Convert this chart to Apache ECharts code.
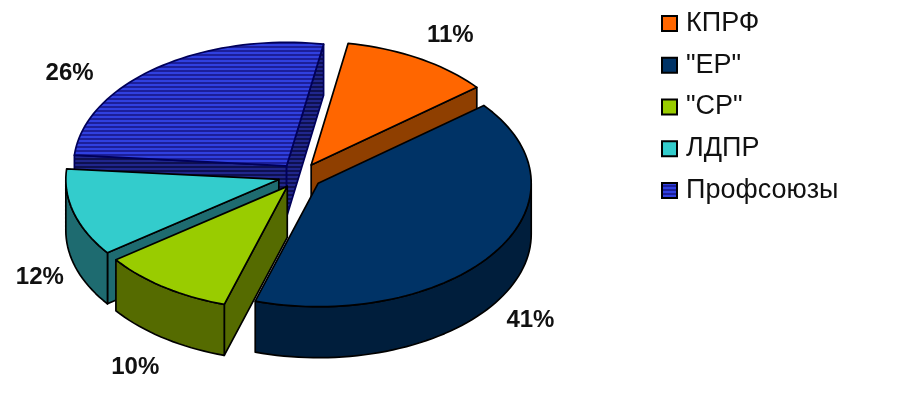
<!DOCTYPE html>
<html>
<head>
<meta charset="utf-8">
<style>html,body{margin:0;padding:0;background:#fff}#c{width:900px;height:407px}</style>
<script src="https://cdn.jsdelivr.net/npm/echarts@6/dist/echarts.min.js"></script>
</head>
<body>
<div id="c"></div>
<script>
const categories = ['КПРФ', '"ЕР"', '"СР"', 'ЛДПР', 'Профсоюзы'];
const values = [11.4, 40.6, 10.1, 11.5, 26.4];
const percentLabels = ['11%', '41%', '10%', '12%', '26%'];

const topColors = ['#FF6600', '#003366', '#99CC00', '#33CCCC', null];
const sideColors = ['#8F3F00', '#001E3C', '#556B00', '#1E6B70', null];
const drawOrder = [4, 0, 3, 2, 1];
const labelNudge = [[4, 3], [-8, 0], [2, 4], [17, 5], [-55, 30]];

const pie = { cx: 300, cy: 176, a: 213, ratio: 0.58, explode: 22, depth: 51, startDeg: 10, labelR: 266 };

function stripes(light, dark) {
  const c = document.createElement('canvas');
  c.width = 4; c.height = 4;
  const g = c.getContext('2d');
  g.fillStyle = light; g.fillRect(0, 0, 4, 2);
  g.fillStyle = dark; g.fillRect(0, 2, 4, 2);
  return { image: c, repeat: 'repeat' };
}
const profTop = stripes('#3040E0', '#1C1F9A');
const profSide = stripes('#20268C', '#0E1050');
topColors[4] = profTop;
sideColors[4] = profSide;

const total = values.reduce((s, v) => s + v, 0);
function sliceAngles(i) {
  let acc = 0;
  for (let k = 0; k < i; k++) acc += values[k];
  const s = pie.startDeg + acc / total * 360;
  return [s, s + values[i] / total * 360];
}
function pt(o, deg, r, dy) {
  const t = deg * Math.PI / 180;
  return [o[0] + r * Math.sin(t), o[1] - r * pie.ratio * Math.cos(t) + (dy || 0)];
}
function arc(o, from, to, dy) {
  const pts = [];
  const n = Math.max(2, Math.ceil(Math.abs(to - from) / 2));
  for (let j = 0; j <= n; j++) pts.push(pt(o, from + (to - from) * j / n, pie.a, dy));
  return pts;
}
function poly(points, fill) {
  return { type: 'polygon', shape: { points }, style: { fill, stroke: fill === profTop || fill === profSide ? '#00005a' : '#000', lineWidth: 1.7, lineJoin: 'round' } };
}
function renderSlice(i) {
  return function () {
    const [s, e] = sliceAngles(i);
    const mid = (s + e) / 2;
    const o = pt([pie.cx, pie.cy], mid, pie.explode);
    const d = pie.depth;
    const side = sideColors[i];
    const children = [];
    const pa = pt(o, s, pie.a), pb = pt(o, e, pie.a);
    // only the radial walls that turn towards the viewer
    if (Math.sin(s * Math.PI / 180) < 0) children.push(poly([o, pa, [pa[0], pa[1] + d], [o[0], o[1] + d]], side));
    if (Math.sin(e * Math.PI / 180) > 0) children.push(poly([o, pb, [pb[0], pb[1] + d], [o[0], o[1] + d]], side));
    const f = Math.max(s, 90), t = Math.min(e, 270);
    if (t > f) {
      children.push(poly(arc(o, f, t, 0).concat(arc(o, t, f, d)), side));
    }
    children.push(poly([o].concat(arc(o, s, e, 0)), topColors[i]));
    const lp = pt(o, mid, pie.labelR);
    const bottom = Math.cos(mid * Math.PI / 180) < 0;
    children.push({
      type: 'text', z2: 10,
      style: {
        text: percentLabels[i], x: lp[0] + labelNudge[i][0], y: lp[1] + (bottom ? d : 0) + labelNudge[i][1],
        fill: '#111', font: 'bold 24px "Liberation Sans", Arial, sans-serif',
        textAlign: 'center', textVerticalAlign: 'middle'
      }
    });
    return { type: 'group', children };
  };
}

const chart = echarts.init(document.getElementById('c'), null, { renderer: 'canvas' });
chart.setOption({
  animation: false,
  backgroundColor: '#fff',
  legend: {
    orient: 'vertical', left: 656, top: 5, itemWidth: 15, itemHeight: 15, itemGap: 14.75,
    textStyle: { fontFamily: '"Liberation Sans", Arial, sans-serif', fontSize: 27, color: '#111', padding: [0, 0, 0, 4] },
    selectedMode: false,
    data: categories.map((name, i) => ({
      name, icon: 'rect',
      itemStyle: { color: topColors[i], borderColor: '#000', borderWidth: 2 }
    }))
  },
  series: categories.map((name, i) => ({
    type: 'custom', name, coordinateSystem: 'none',
    z: 2 + drawOrder.indexOf(i),
    itemStyle: { color: topColors[i] },
    data: [values[i]],
    renderItem: renderSlice(i)
  }))
});
</script>
</body>
</html>
